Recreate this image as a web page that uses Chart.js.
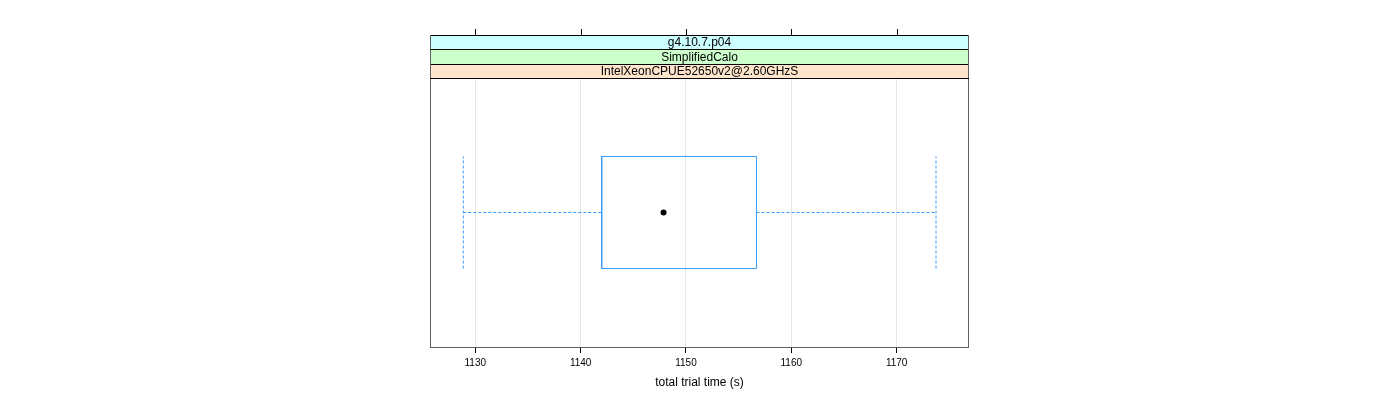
<!DOCTYPE html>
<html><head><meta charset="utf-8">
<script src="https://cdn.jsdelivr.net/npm/chart.js@4"></script>
<style>html,body{margin:0;padding:0;background:#fff}#wrap{width:1400px;height:400px}</style>
</head><body><div id="wrap"><canvas id="c" width="1400" height="400"></canvas></div>
<script>
// ---- data ----
const stripLabels = ['g4.10.7.p04', 'SimplifiedCalo', 'IntelXeonCPUE52650v2@2.60GHzS'];
const stripColors = ['#ccffff', '#ccffcc', '#ffe5cc'];
// low whisker, Q1, median, Q3, high whisker
const boxStats = [1128.86, 1142.0, 1147.87, 1156.70, 1173.74];
const xTicks = [1130, 1140, 1150, 1160, 1170];
const xLimits = [1125.70, 1176.87];
const axisTitle = 'total trial time (s)';

// ---- layout / style ----
const FONT = '"Liberation Sans", Arial, Helvetica, sans-serif';
const BOX_COLOR = '#3a9bff';
const PANEL_BORDER = '#606060';
const yCenter = 1, boxHalf = 0.25;
const STRIP_H = 14.4;

const [lo, q1, med, q3, hi] = boxStats;

function frame(ctx, x0, y0, x1, y1, color) {
  ctx.fillStyle = color;
  ctx.fillRect(x0, y0, x1 - x0, 1);
  ctx.fillRect(x0, y1 - 1, x1 - x0, 1);
  ctx.fillRect(x0, y0, 1, y1 - y0);
  ctx.fillRect(x1 - 1, y0, 1, y1 - y0);
}

const stripPlugin = {
  id: 'strips',
  afterDraw(chart) {
    const ctx = chart.ctx, a = chart.chartArea, xs = chart.scales.x;
    ctx.save();
    ctx.setLineDash([]);
    const L = Math.round(a.left), R = Math.round(a.right);
    const n = stripLabels.length;
    const top0 = a.top - n * STRIP_H;
    // panel border
    frame(ctx, L, Math.round(a.top), R, Math.round(a.bottom) + 1, PANEL_BORDER);
    // strips (top to bottom)
    for (let i = 0; i < n; i++) {
      const y0 = Math.round(top0 + i * STRIP_H), y1 = Math.round(top0 + (i + 1) * STRIP_H);
      ctx.fillStyle = stripColors[i];
      ctx.fillRect(L, y0, R - L, y1 - y0);
      ctx.fillStyle = '#000000';
      ctx.fillRect(L, y0, R - L, 1);
      ctx.fillRect(L, y1, R - L, 1);
      ctx.fillStyle = '#000000';
      ctx.font = '12px ' + FONT;
      ctx.textAlign = 'center';
      ctx.textBaseline = 'middle';
      ctx.fillText(stripLabels[i], (L + R) / 2, (y0 + y1) / 2 + 1);
    }
    // strip block sides
    ctx.fillStyle = PANEL_BORDER;
    ctx.fillRect(L, Math.round(top0), 1, Math.round(a.top) - Math.round(top0));
    ctx.fillRect(R - 1, Math.round(top0), 1, Math.round(a.top) - Math.round(top0));
    // top tick marks
    ctx.fillStyle = '#000000';
    xTicks.forEach(v => {
      const px = Math.round(xs.getPixelForValue(v));
      ctx.fillRect(px, Math.round(top0) - 6, 1, 6);
    });
    ctx.restore();
  }
};

const lineDs = (data, dash) => ({
  type: 'scatter', data, showLine: true, fill: false, tension: 0,
  borderColor: BOX_COLOR, borderWidth: 1, borderDash: dash || [],
  pointRadius: 0, pointHoverRadius: 0
});

new Chart(document.getElementById('c'), {
  type: 'scatter',
  data: {
    datasets: [
      lineDs([{x: lo, y: yCenter}, {x: q1, y: yCenter}], [3, 2]),
      lineDs([{x: q3, y: yCenter}, {x: hi, y: yCenter}], [3, 2]),
      lineDs([{x: lo, y: yCenter - boxHalf}, {x: lo, y: yCenter + boxHalf}], [3, 2]),
      lineDs([{x: hi, y: yCenter - boxHalf}, {x: hi, y: yCenter + boxHalf}], [3, 2]),
      lineDs([{x: q1, y: yCenter - boxHalf}, {x: q3, y: yCenter - boxHalf},
              {x: q3, y: yCenter + boxHalf}, {x: q1, y: yCenter + boxHalf},
              {x: q1, y: yCenter - boxHalf}]),
      { type: 'scatter', data: [{x: med, y: yCenter}], pointRadius: 3,
        pointBackgroundColor: '#000', pointBorderColor: '#000', pointBorderWidth: 0 }
    ]
  },
  options: {
    responsive: false, animation: false, devicePixelRatio: 1,
    layout: { padding: { left: 430, right: 431, top: 78, bottom: 0 } },
    plugins: { legend: { display: false }, tooltip: { enabled: false }, colors: { enabled: false } },
    scales: {
      x: {
        type: 'linear', position: 'bottom', min: xLimits[0], max: xLimits[1],
        afterBuildTicks: s => { s.ticks = xTicks.map(v => ({ value: v })); },
        afterFit: s => { s.height = 53; },
        grid: { color: '#e6e6e6', tickColor: '#000', tickLength: 6, drawOnChartArea: true },
        border: { display: false },
        ticks: { color: '#000', font: { family: FONT, size: 10 }, padding: 4, maxRotation: 0,
                 callback: v => String(v) },
        title: { display: true, text: axisTitle, color: '#000',
                 font: { family: FONT, size: 12 }, padding: { top: 0, bottom: 10 } }
      },
      y: { type: 'linear', min: 0.4, max: 1.6, display: false }
    }
  },
  plugins: [stripPlugin]
});
</script></body></html>
